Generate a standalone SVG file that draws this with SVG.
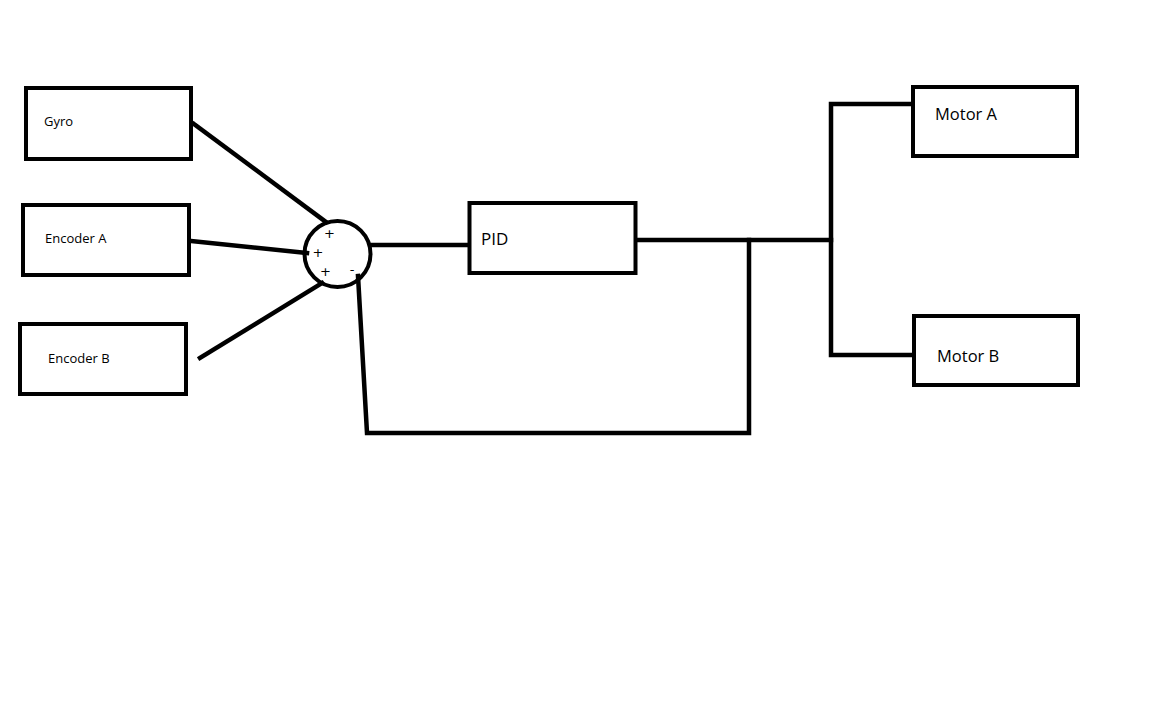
<svg xmlns="http://www.w3.org/2000/svg" width="1152" height="720" viewBox="0 0 1152 720">
<style>
.box{fill:#fff;stroke:#000;stroke-width:4}
.ln{fill:none;stroke:#000;stroke-width:4.5;stroke-linecap:square}
.s{font-family:"Open Sans","Noto Sans",sans-serif;font-size:13px;fill:#000}
.m{font-family:"Open Sans","Noto Sans",sans-serif;font-size:16.5px;fill:#000}
.sg{font-family:"DejaVu Sans",sans-serif;font-size:13px;fill:#000;text-anchor:middle}
</style>
<rect width="1152" height="720" fill="#fff"/>
<g id="connectors">
<line class="ln" x1="194" y1="124" x2="326" y2="222"/>
<line class="ln" x1="191" y1="241" x2="307" y2="253"/>
<line class="ln" x1="200" y1="358" x2="322" y2="283"/>
<line class="ln" x1="371" y1="245" x2="468" y2="245"/>
<polyline class="ln" points="358,276 367,433 749,433 749,240"/>
<line class="ln" x1="637" y1="240" x2="831" y2="240"/>
<polyline class="ln" points="912,104 831,104 831,355 912,355"/>
</g>
<g id="gyro"><rect class="box" x="26" y="88" width="165" height="71"/><text class="s" x="44" y="126">Gyro</text></g>
<g id="encoderA"><rect class="box" x="23" y="205" width="166" height="70"/><text class="s" x="45" y="242.5">Encoder A</text></g>
<g id="encoderB"><rect class="box" x="20" y="324" width="166" height="70"/><text class="s" x="48" y="362.5">Encoder B</text></g>
<g id="sum">
<circle cx="337.5" cy="254" r="33" fill="none" stroke="#000" stroke-width="4"/>
<text class="sg" x="329.5" y="238">+</text>
<text class="sg" x="318" y="256.5">+</text>
<text class="sg" x="325.5" y="276">+</text>
<text class="sg" x="352" y="274">-</text>
</g>
<g id="pid"><rect class="box" x="469.5" y="203" width="166" height="70"/><text class="m" x="481" y="245" style="font-size:17px">PID</text></g>
<g id="motorA"><rect class="box" x="913" y="87" width="164" height="69"/><text class="m" x="935" y="120">Motor A</text></g>
<g id="motorB"><rect class="box" x="914" y="316" width="164" height="69"/><text class="m" x="937" y="362">Motor B</text></g>
</svg>
